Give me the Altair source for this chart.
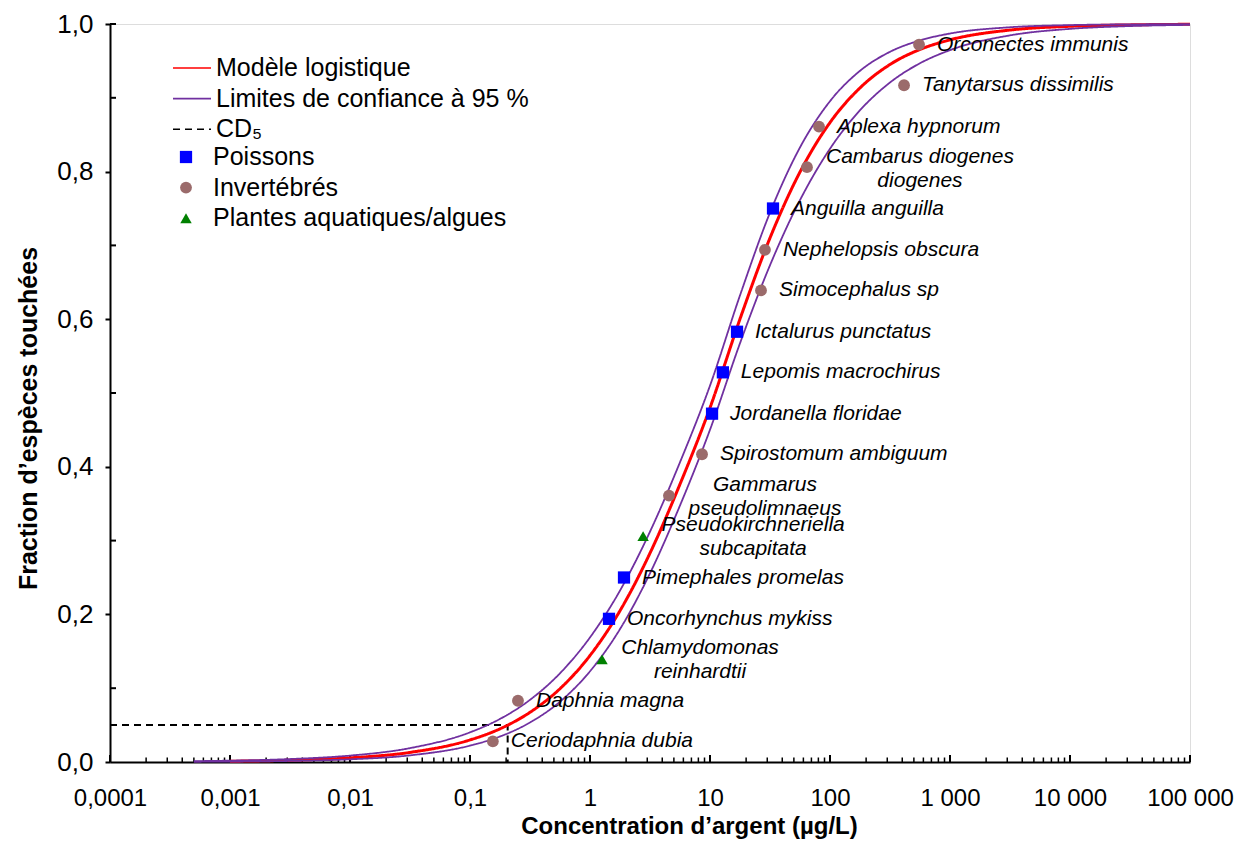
import altair as alt
import pandas as pd

FONT = "Liberation Sans"

# ---------------- data ----------------
species = ["Ceriodaphnia dubia", "Daphnia magna", "Chlamydomonas reinhardtii",
           "Oncorhynchus mykiss", "Pimephales promelas", "Pseudokirchneriella subcapitata",
           "Gammarus pseudolimnaeus", "Spirostomum ambiguum", "Jordanella floridae",
           "Lepomis macrochirus", "Ictalurus punctatus", "Simocephalus sp",
           "Nephelopsis obscura", "Anguilla anguilla", "Cambarus diogenes diogenes",
           "Aplexa hypnorum", "Tanytarsus dissimilis", "Orconectes immunis"]
label_text = ["Ceriodaphnia dubia", "Daphnia magna", "Chlamydomonas\nreinhardtii",
              "Oncorhynchus mykiss", "Pimephales promelas", "Pseudokirchneriella\nsubcapitata",
              "Gammarus\npseudolimnaeus", "Spirostomum ambiguum", "Jordanella floridae",
              "Lepomis macrochirus", "Ictalurus punctatus", "Simocephalus sp",
              "Nephelopsis obscura", "Anguilla anguilla", "Cambarus diogenes\ndiogenes",
              "Aplexa hypnorum", "Tanytarsus dissimilis", "Orconectes immunis"]
groups = ["Invertébrés", "Invertébrés", "Plantes aquatiques/algues",
          "Poissons", "Poissons", "Plantes aquatiques/algues",
          "Invertébrés", "Invertébrés", "Poissons",
          "Poissons", "Poissons", "Invertébrés",
          "Invertébrés", "Poissons", "Invertébrés",
          "Invertébrés", "Invertébrés", "Invertébrés"]
conc = [0.155, 0.251, 1.26, 1.44, 1.92, 2.77, 4.55, 8.58, 10.4,
        12.8, 16.8, 26.6, 28.7, 33.5, 64.3, 81.0, 414, 552]
frac = [0.028, 0.083, 0.139, 0.194, 0.250, 0.306, 0.361, 0.417, 0.472,
        0.528, 0.583, 0.639, 0.694, 0.750, 0.806, 0.861, 0.917, 0.972]

model_conc = [0.001, 0.00316, 0.01, 0.0316, 0.1, 0.178, 0.316, 0.562, 1, 1.78, 3.16, 5.62,
              10, 17.8, 31.6, 56.2, 100, 178, 316, 562, 1000, 3162, 10000, 31623, 100000]
model_frac = [0.00103, 0.0024, 0.0056, 0.0130, 0.0299, 0.0450, 0.0673, 0.0993, 0.1443,
              0.2051, 0.2829, 0.3764, 0.4800, 0.6005, 0.7100, 0.7994, 0.8665, 0.9135,
              0.9451, 0.9655, 0.9785, 0.9918, 0.9969, 0.9988, 0.9996]
ci_conc = [0.0005, 0.001, 0.00316, 0.01, 0.0316, 0.1, 0.178, 0.316, 0.562, 1, 1.78, 3.16,
           5.62, 10, 17.8, 31.6, 56.2, 100, 178, 316, 562, 1000, 3162, 10000, 31623, 100000]
ci_upper = [0.00115, 0.00184, 0.0040, 0.00867, 0.0188, 0.0402, 0.0584, 0.0842, 0.1202,
            0.1688, 0.2324, 0.3120, 0.4061, 0.5100, 0.6325, 0.7443, 0.8327, 0.8954,
            0.9366, 0.9623, 0.9778, 0.9871, 0.9956, 0.9985, 0.9995, 0.9998]
ci_lower = [0.00033, 0.00058, 0.00145, 0.00362, 0.0090, 0.0222, 0.0346, 0.0535, 0.0817,
            0.1229, 0.1802, 0.2556, 0.3475, 0.4502, 0.5676, 0.6730, 0.7613, 0.8310,
            0.8832, 0.9207, 0.9468, 0.9646, 0.9846, 0.9934, 0.9972, 0.9988]

cd5_conc = [0.0001, 0.206, 0.206]
cd5_frac = [0.05, 0.05, 0.0]

x_tick_values = [0.0001, 0.001, 0.01, 0.1, 1, 10, 100, 1000, 10000, 100000]
x_tick_labels = ["0,0001", "0,001", "0,01", "0,1", "1", "10", "100", "1 000", "10 000", "100 000"]
minor_mult = [2, 3, 4, 5, 6, 7, 8, 9]
y_tick_values = [0.0, 0.2, 0.4, 0.6, 0.8, 1.0]
y_inner_ticks = [0.1, 0.3, 0.5, 0.7, 0.9, 1.0]

line_names = ["Modèle logistique", "Limites de confiance à 95 %", "CD₅"]
line_colors = ["#ff0000", "#7030a0", "#000000"]
line_dashes = [[1, 0], [1, 0], [7, 5]]
group_names = ["Poissons", "Invertébrés", "Plantes aquatiques/algues"]
group_colors = ["#0000ff", "#9b6b6b", "#008000"]
group_shapes = ["square", "circle", "triangle-up"]
group_sizes = [150, 130, 200]

# ---------------- tables ----------------
pts = pd.DataFrame({"name": species, "label": label_text, "group": groups,
                    "conc": conc, "frac": frac})
curves = pd.concat([
    pd.DataFrame({"conc": model_conc, "frac": model_frac, "series": line_names[0],
                  "curve": "model", "idx": range(len(model_conc))}),
    pd.DataFrame({"conc": ci_conc, "frac": ci_upper, "series": line_names[1],
                  "curve": "upper", "idx": range(len(ci_conc))}),
    pd.DataFrame({"conc": ci_conc, "frac": ci_lower, "series": line_names[1],
                  "curve": "lower", "idx": range(len(ci_conc))}),
    pd.DataFrame({"conc": cd5_conc, "frac": cd5_frac, "series": line_names[2],
                  "curve": "cd5", "idx": range(len(cd5_conc))}),
], ignore_index=True)
ticks_x = pd.DataFrame({"v": [d * m for d in x_tick_values[:-1] for m in minor_mult] + x_tick_values,
                        "major": [0] * (len(x_tick_values) - 1) * len(minor_mult) + [1] * len(x_tick_values)})
ticks_y = pd.DataFrame({"v": y_inner_ticks})

# ---------------- scales / axes ----------------
xscale = alt.Scale(type="log", domain=[0.0001, 100000], nice=False)
yscale = alt.Scale(domain=[0, 1], nice=False)
label_arr = "[" + ",".join("'" + t + "'" for t in x_tick_labels) + "]"
xaxis = alt.Axis(values=x_tick_values, labelExpr=label_arr + "[round(log(datum.value)/LN10)+4]",
                 tickSize=0, labelPadding=24, labelFontSize=24, labelFont=FONT, labelColor="black",
                 labelFlush=False, labelOverlap=False,
                 title="Concentration d’argent (µg/L)", titleFont=FONT, titleFontSize=24,
                 titleFontWeight="bold", titleColor="black", titleX=579, titleY=64,
                 titleAlign="center", titleBaseline="middle", grid=False,
                 domainColor="black", domainWidth=2)
yaxis = alt.Axis(values=y_tick_values, labelExpr="replace(format(datum.value, '.1f'), '.', ',')",
                 tickSize=5, tickWidth=2, tickColor="black", labelPadding=12, labelFontSize=26,
                 labelFont=FONT, labelColor="black", labelFlush=False,
                 title="Fraction d’espèces touchées", titleFont=FONT, titleFontSize=25,
                 titleFontWeight="bold", titleColor="black", titleX=-82, titleY=394,
                 titleAngle=270, titleAlign="center", titleBaseline="middle", grid=False,
                 domainColor="black", domainWidth=2)


def X(field="conc"):
    return alt.X(f"{field}:Q", scale=xscale, axis=xaxis)


def Y(field="frac"):
    return alt.Y(f"{field}:Q", scale=yscale, axis=yaxis)


line_legend = alt.Legend(title=None, orient="none", legendX=69.5, legendY=31.5,
                         symbolType="M-2,0H2", symbolSize=361, symbolStrokeWidth=1.6,
                         labelFont=FONT, labelFontSize=25, labelColor="black", labelOffset=11.5,
                         rowPadding=4.6, padding=0, labelLimit=600)
pt_legend = alt.Legend(title=None, orient="none", legendX=63.5, legendY=120.5,
                       symbolStrokeWidth=0, labelFont=FONT, labelFontSize=25,
                       labelColor="black", labelOffset=14.5, rowPadding=4.6, padding=0,
                       labelLimit=600)

stroke_enc = alt.Stroke("series:N", scale=alt.Scale(domain=line_names, range=line_colors),
                        legend=line_legend)
dash_enc = alt.StrokeDash("series:N", scale=alt.Scale(domain=line_names, range=line_dashes),
                          legend=line_legend)

base = alt.Chart(curves)

ci_layer = base.transform_filter("datum.curve == 'upper' || datum.curve == 'lower'").mark_line(
    strokeWidth=1.8, interpolate="monotone").encode(
    x=X(), y=Y(), stroke=stroke_enc, strokeDash=dash_enc, detail="curve:N")
model_layer = base.transform_filter("datum.curve == 'model'").mark_line(
    strokeWidth=3, interpolate="monotone").encode(
    x=X(), y=Y(), stroke=stroke_enc, strokeDash=dash_enc, detail="curve:N")
cd5_layer = base.transform_filter("datum.curve == 'cd5'").mark_line(
    strokeWidth=2).encode(
    x=X(), y=Y(), stroke=stroke_enc, strokeDash=dash_enc, detail="curve:N",
    order=alt.Order("idx:Q"))

xt_minor = alt.Chart(ticks_x).transform_filter("datum.major == 0").mark_rule(
    color="black", strokeWidth=1.5).encode(x=X("v"), y=alt.value(738), y2=alt.value(733.5))
xt_major = alt.Chart(ticks_x).transform_filter("datum.major == 1").mark_rule(
    color="black", strokeWidth=2).encode(x=X("v"), y=alt.value(738), y2=alt.value(731))
yt_inner = alt.Chart(ticks_y).mark_rule(color="black", strokeWidth=2).encode(
    y=Y("v"), x=alt.value(0), x2=alt.value(6))

points = alt.Chart(pts).mark_point(filled=True, opacity=1, strokeWidth=0).encode(
    x=X(), y=Y(),
    fill=alt.Fill("group:N", scale=alt.Scale(domain=group_names, range=group_colors), legend=pt_legend),
    shape=alt.Shape("group:N", scale=alt.Scale(domain=group_names, range=group_shapes), legend=pt_legend),
    size=alt.Size("group:N", scale=alt.Scale(domain=group_names, range=group_sizes), legend=pt_legend),
)

two_line = {"Cambarus diogenes diogenes": (113, -10),
            "Gammarus pseudolimnaeus": (96, -11),
            "Pseudokirchneriella subcapitata": (110, -11),
            "Chlamydomonas reinhardtii": (98, -11)}
text_style = dict(font=FONT, fontSize=21, fontStyle="italic", color="black", baseline="middle")
single = alt.Chart(pts).transform_filter(
    alt.FieldOneOfPredicate(field="name", oneOf=[s for s in species if s not in two_line])
).mark_text(align="left", dx=18, **text_style).encode(x=X(), y=Y(), text="label:N")
multi_layers = [
    alt.Chart(pts).transform_filter(alt.datum.name == nm).mark_text(
        align="center", dx=dx, dy=dy, lineBreak="\n", lineHeight=24, **text_style
    ).encode(x=X(), y=Y(), text="label:N")
    for nm, (dx, dy) in two_line.items()
]

chart = alt.layer(
    xt_minor, xt_major, yt_inner, cd5_layer, model_layer, ci_layer, points, single, *multi_layers
).properties(
    width=1080, height=738,
    padding={"left": 102, "top": 16, "right": 48, "bottom": 77},
    autosize=alt.AutoSizeParams(type="none"),
).configure_view(stroke=None).configure(font=FONT)

chart.save("out.html", embed_options={"renderer": "svg", "actions": False})
